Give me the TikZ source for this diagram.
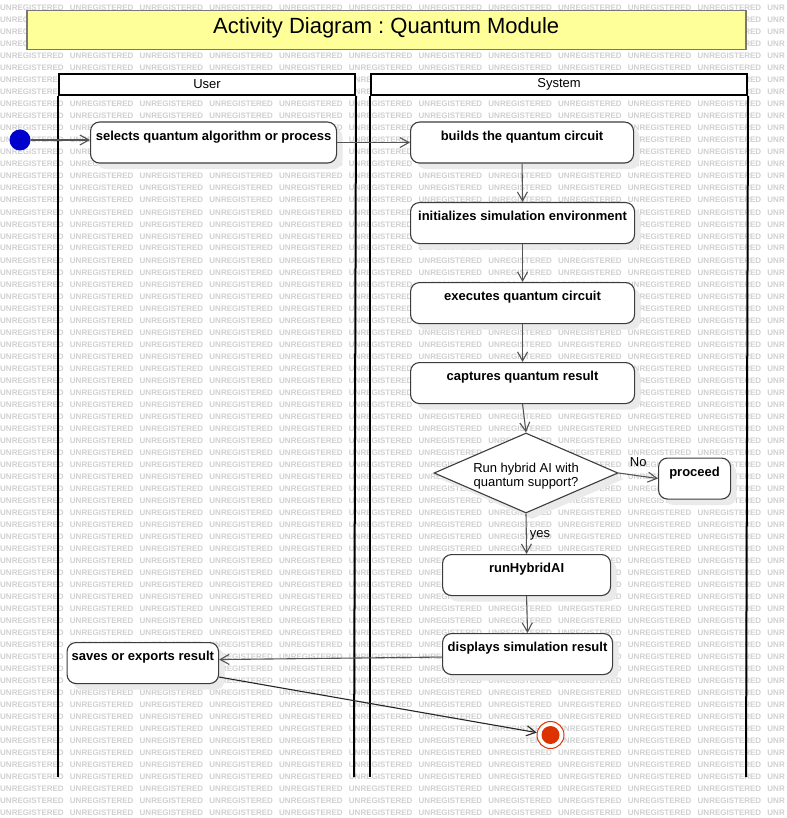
\documentclass[tikz,border=0pt]{standalone}
\usepackage{fontspec}
\setmainfont{Liberation Sans}
\usetikzlibrary{arrows.meta,shapes.geometric,shadows}
\definecolor{wm}{RGB}{208,208,208}
\definecolor{boxline}{RGB}{60,60,60}
\definecolor{flowc}{RGB}{85,85,85}
\definecolor{titlefill}{RGB}{255,255,153}
\definecolor{titleline}{RGB}{120,120,120}
\definecolor{startblue}{RGB}{0,0,204}
\definecolor{endred}{RGB}{221,51,0}
\definecolor{shadowc}{RGB}{234,234,234}
\frenchspacing
\begin{document}
\begin{tikzpicture}[x=1pt,y=-1pt,
  wmtext/.style={anchor=base west, inner sep=0pt, text=wm, font=\bfseries\fontsize{8}{8}\selectfont},
  shad/.style={drop shadow={shadow xshift=6pt, shadow yshift=-6pt, fill=shadowc, opacity=1}},
  actbox/.style={draw=boxline, line width=1.1pt, rounded corners=9pt, fill=white,
    font=\bfseries\fontsize{13}{15}\selectfont, text height=18pt, text depth=23pt,
    inner ysep=0pt, inner xsep=2pt, minimum height=41pt, anchor=north west, shad},
  laneh/.style={draw=black, line width=2pt, fill=white, font=\fontsize{13}{15}\selectfont,
    inner sep=0pt, minimum height=21pt, anchor=north west},
  lanel/.style={draw=black, line width=2pt},
  flow/.style={draw=flowc, line width=1.1pt, -{Straight Barb[length=9pt,width=10pt]}},
  lbl/.style={font=\fontsize{13}{15}\selectfont, inner sep=0pt}
]
\useasboundingbox (0,0) rectangle (786,818);
\clip (0,0) rectangle (786,818);
\fill[white] (0,0) rectangle (786,818);
% watermark
\foreach \r in {0,...,67}{
  \foreach \c in {0,...,10}{
    \node[wmtext] (wm-\r-\c) at (69.75*\c, 11+12*\r) {UNREGISTERED};
  }
  \node[wmtext] (wm-\r-11) at (767.25, 11+12*\r) {UNR};
}
% title
\node[draw=titleline, line width=1.5pt, fill=titlefill, minimum width=719pt, minimum height=39pt,
  inner sep=0pt, text height=22.3pt, text depth=16.7pt, anchor=north west,
  font=\fontsize{22}{24}\selectfont] (title) at (26,10) {Activity Diagram : Quantum Module};
% lanes
\node[laneh, minimum width=296pt] (userh) at (58,73) {User};
\coordinate (userbl) at (58,777);
\coordinate (userbr) at (354,777);
\draw[lanel] (userh.south west) -- (userbl);
\draw[lanel] (userh.south east) -- (userbr);
\node[laneh, minimum width=376pt] (sysh) at (370,73) {System};
\coordinate (sysbl) at (370,777);
\coordinate (sysbr) at (746,777);
\draw[lanel] (sysh.south west) -- (sysbl);
\draw[lanel] (sysh.south east) -- (sysbr);
% nodes
\node[circle, fill=startblue, minimum size=21pt, inner sep=0pt] (start) at (20,140) {};
\node[actbox, minimum width=246pt] (sel) at (90,121.5) {selects quantum algorithm or process};
\node[actbox, minimum width=223pt] (build) at (410,121.5) {builds the quantum circuit};
\node[actbox, minimum width=224pt] (init) at (410,202) {initializes simulation environment};
\node[actbox, minimum width=224pt] (exec) at (410,282) {executes quantum circuit};
\node[actbox, minimum width=224pt] (capt) at (410,362) {captures quantum result};
\node[diamond, draw=boxline, line width=1.1pt, fill=white, minimum width=184pt, minimum height=80pt,
  shape aspect=2.3, inner sep=0pt, align=center, font=\fontsize{13}{14}\selectfont,
  text height=27pt, text depth=0pt, shad]
  (dec) at (526,473) {Run hybrid AI with\\quantum support?};
\node[actbox, minimum width=72pt] (proc) at (658,457.5) {proceed};
\node[actbox, minimum width=168pt] (run) at (442,554) {runHybridAI};
\node[actbox, minimum width=170pt] (disp) at (442,633) {displays simulation result};
\node[actbox, minimum width=151.5pt] (saves) at (66.5,642) {saves or exports result};
\node[circle, draw=endred, line width=1pt, fill=white, minimum size=27pt, inner sep=0pt,
  path picture={\fill[endred] (path picture bounding box.center) circle (9pt);}] (final) at (550.5,735) {};
% flows
\draw[flow] (start) -- (start -| sel.west);
\draw[flow] (sel.east) -- (build.west);
\draw[flow] (build.south) -- (init.north);
\draw[flow] (init.south) -- (exec.north);
\draw[flow] (exec.south) -- (capt.north);
\draw[flow] (capt.south) -- (dec.north);
\draw[flow] (dec.east) -- node[lbl, pos=0.5, above=9pt] (nolbl) {No} (proc.west);
\draw[flow] (dec.south) -- node[lbl, pos=0.5, right=3pt, yshift=-2pt] (yeslbl) {yes} (run.north);
\draw[flow] (run.south) -- (disp.north);
\draw[flow] ([yshift=-3pt]disp.west) -- ([yshift=3.5pt]saves.east);
\draw[flow, draw=black!85] ([yshift=-14pt]saves.east) -- (final);
\end{tikzpicture}
\end{document}
